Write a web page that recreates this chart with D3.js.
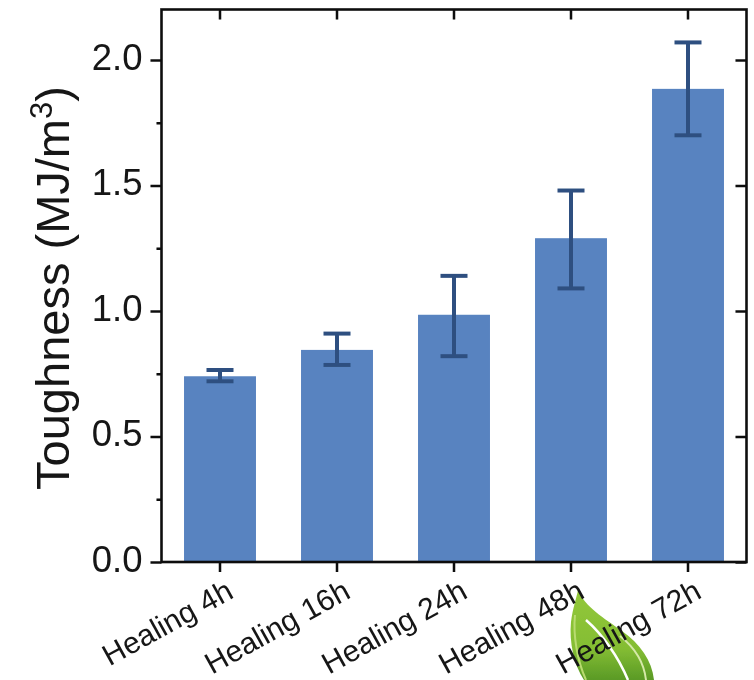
<!DOCTYPE html>
<html><head><meta charset="utf-8">
<style>html,body{margin:0;padding:0;background:#fff}svg{display:block}text{font-family:"Liberation Sans",Arial,sans-serif;fill:#141414}</style>
<script src="https://cdn.jsdelivr.net/npm/d3@7"></script>
</head><body><svg id="c" width="754" height="680"></svg>
<script>
const categories=["Healing 4h","Healing 16h","Healing 24h","Healing 48h","Healing 72h"];
const toughness=[0.74,0.845,0.985,1.29,1.885];
const errLow=[0.72,0.785,0.82,1.09,1.70];
const errHigh=[0.765,0.91,1.14,1.48,2.07];
const majorTicks=[0,0.5,1,1.5,2];
const minorTicks=[0.25,0.75,1.25,1.75];

const L=161.5,R=746.5,T=9.5,B=562;
const svg=d3.select("#c");
const x=d3.scaleBand().domain(categories).range([L,R]).paddingInner(0.385).paddingOuter(0.1925);
const y=d3.scaleLinear().domain([0,2.2]).range([B,B-2.2*251]);
const dark="#2f5080",blue="#5883c0",ink="#0a0a0a";
const soft=svg.append("g").attr("filter","url(#soft)");
const defs=svg.append("defs");
defs.append("filter").attr("id","soft").attr("x","-5%").attr("y","-5%").attr("width","110%").attr("height","110%")
  .append("feGaussianBlur").attr("stdDeviation",0.5);
const lg=defs.append("linearGradient").attr("id","leaf").attr("x1",0).attr("y1",0).attr("x2",0).attr("y2",1);
lg.append("stop").attr("offset","0").attr("stop-color","#93c83a");
lg.append("stop").attr("offset","0.65").attr("stop-color","#84bd33");
lg.append("stop").attr("offset","1").attr("stop-color","#5a9a26");

// leaf decoration behind the category labels
const leaf=soft.append("g");
leaf.append("path").attr("fill","url(#leaf)").attr("d","M578,590C585,607 604,618 622,631C640,644 652,660 654,680L584,680C574,665 569,642 571,622C573,607 576,600 578,590Z");
leaf.append("path").attr("fill","none").attr("stroke","#fff").attr("stroke-width",2.5).attr("d","M586,620C602,634 618,656 628,680");
leaf.append("path").attr("fill","none").attr("stroke","#d5e9a8").attr("stroke-width",2).attr("d","M620,636C634,647 644,662 646,680");
leaf.append("path").attr("fill","none").attr("stroke","#b9db70").attr("stroke-width",2).attr("d","M575,615C573,635 577,660 586,680");

// bars
soft.append("g").selectAll("rect").data(categories).join("rect")
  .attr("x",d=>x(d)).attr("width",x.bandwidth())
  .attr("y",(d,i)=>y(toughness[i])).attr("height",(d,i)=>y(0)-y(toughness[i]))
  .attr("fill",blue);

// error bars
const eb=soft.append("g").attr("stroke",dark).attr("stroke-width",4).attr("fill","none");
categories.forEach((c,i)=>{
  const cx=x(c)+x.bandwidth()/2;
  eb.append("line").attr("x1",cx).attr("x2",cx).attr("y1",y(errLow[i])).attr("y2",y(errHigh[i]));
  [errLow[i],errHigh[i]].forEach(v=>eb.append("line").attr("x1",cx-13.5).attr("x2",cx+13.5).attr("y1",y(v)).attr("y2",y(v)));
});

// axes
const yAxis=soft.append("g").attr("transform",`translate(${L},0)`)
  .call(d3.axisLeft(y).tickValues(majorTicks).tickSize(11).tickPadding(8).tickFormat(d3.format(".1f")));
yAxis.selectAll("text").style("font-size","36.5px").attr("dy","0.25em");
const yMinor=soft.append("g").attr("transform",`translate(${L},0)`)
  .call(d3.axisLeft(y).tickValues(minorTicks).tickSize(5).tickFormat(""));
const yRight=soft.append("g").attr("transform",`translate(${R},0)`)
  .call(d3.axisRight(y).tickValues(majorTicks).tickSize(-11).tickFormat(""));
const xTop=soft.append("g").attr("transform",`translate(0,${T})`)
  .call(d3.axisTop(x).tickSize(-10).tickFormat(""));
const xAxis=soft.append("g").attr("transform",`translate(0,${B})`)
  .call(d3.axisBottom(x).tickSize(10).tickFormat(""));
[yAxis,yMinor,yRight,xTop,xAxis].forEach(a=>{
  a.selectAll(".domain").remove();
  a.selectAll("line").attr("stroke",ink).attr("stroke-width",2.5);
});
soft.append("rect").attr("x",L).attr("y",T).attr("width",R-L).attr("height",B-T)
  .attr("fill","none").attr("stroke",ink).attr("stroke-width",2.6);

// rotated category labels
soft.append("g").selectAll("text").data(categories).join("text")
  .attr("transform",d=>`translate(${x(d)+x.bandwidth()/2+15},${B+35}) rotate(-29)`)
  .attr("text-anchor","end").style("font-size","30px").text(d=>d);

// y title
const t=soft.append("text").attr("transform","translate(69,288) rotate(-90)").attr("text-anchor","middle").style("font-size","47px");
t.append("tspan").text("Toughness (MJ/m");
t.append("tspan").attr("dy",-17).style("font-size","31px").text("3");
t.append("tspan").attr("dy",17).text(")");
</script></body></html>
